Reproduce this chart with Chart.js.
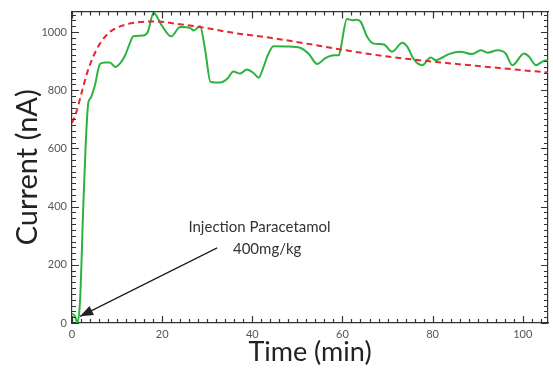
<!DOCTYPE html>
<html>
<head>
<meta charset="utf-8">
<script src="https://cdn.jsdelivr.net/npm/chart.js@4"></script>
<style>
  html, body { margin: 0; padding: 0; background: #fff; }
  #wrap { width: 553px; height: 370px; }
</style>
</head>
<body>
<div id="wrap"><canvas id="chart" width="553" height="370"></canvas></div>
<script>
// measured current (green)
const timeMeasured = [0, 0.6, 1.2, 1.8, 2.5, 3.0, 3.6, 4.1, 5.1, 6.2, 7.3, 8.4, 9.6, 10.8, 11.8, 12.8, 13.6, 15.8, 16.8, 18.1, 19.9, 22, 24, 26.2, 27, 28.4, 29.6, 30.7, 32.9, 34.5, 35.8, 37.3, 38.8, 40.2, 41.4, 42.5, 43.3, 44.7, 47.5, 50.7, 52.5, 54.4, 56.2, 58.1, 59.2, 59.6, 61, 62.2, 63, 64, 65.5, 67, 69.2, 71, 73.3, 74.4, 75.8, 77.7, 79.6, 80.7, 83.6, 86.2, 88.8, 90.7, 92.2, 94.4, 96.2, 97.7, 100.3, 101.4, 102.9, 105.1, 105.6];
const currentMeasured = [33, 25, 2, 80, 400, 600, 755, 772, 818, 890, 895, 895, 880, 895, 920, 960, 985, 988, 1000, 1065, 1023, 985, 1017, 1014, 1005, 1020, 932, 829, 826, 840, 864, 857, 871, 860, 843, 880, 915, 951, 950, 945, 925, 890, 910, 920, 920, 943, 1045, 1040, 1042, 1036, 983, 960, 957, 932, 963, 949, 907, 886, 912, 903, 924, 932, 924, 937, 929, 937, 926, 886, 926, 915, 886, 903, 900];

// fitted curve (red dashed)
const timeFit = [0, 1, 2.2, 3.3, 4.7, 6.2, 8.4, 11.4, 15.1, 18.8, 23.3, 28.4, 35.8, 44, 52, 59.6, 67, 75.8, 84, 92.2, 99, 105.6];
const currentFit = [687, 727, 795, 857, 915, 960, 1000, 1023, 1034, 1036, 1028, 1017, 997, 980, 960, 940, 922, 905, 892, 880, 870, 861];

const xRange = [0, 105.6];
const yRange = [0, 1070];

const annotationLines = ["Injection Paracetamol", "400mg/kg"];

const toPoints = (xs, ys) => xs.map((x, i) => ({ x, y: ys[i] }));

const font = "Lato";
const axisColor = "#333";

// inward tick length per axis id
const tickMarks = {
  x: 7, xMinor: 4, xTop: 7, xTopMinor: 4,
  y: 7, yMinor: 4, yRight: 7, yRightMinor: 4
};

function sideAxis(position, step, major, labels) {
  const vertical = position === "left" || position === "right";
  return {
    type: "linear",
    position,
    min: vertical ? yRange[0] : xRange[0],
    max: vertical ? yRange[1] : xRange[1],
    weight: major ? 1 : 0,
    grid: { drawOnChartArea: false, drawTicks: false },
    border: { display: major, color: axisColor, width: 1.2 },
    ticks: {
      display: labels,
      stepSize: step,
      includeBounds: false,
      autoSkip: false,
      padding: 5,
      color: "#555",
      font: { family: font, size: 11 },
      callback: v => String(v)
    },
    afterFit: scale => {
      if (position === "left") scale.width = labels ? 72 : 0;
      else if (position === "bottom") scale.height = labels ? 47 : 0;
      else if (position === "top") scale.height = 0;
      else scale.width = 0;
    }
  };
}

const scales = {
  x: sideAxis("bottom", 20, true, true),
  xMinor: sideAxis("bottom", 2, false, false),
  xTop: sideAxis("top", 20, true, false),
  xTopMinor: sideAxis("top", 2, false, false),
  y: sideAxis("left", 200, true, true),
  yMinor: sideAxis("left", 20, false, false),
  yRight: sideAxis("right", 200, true, false),
  yRightMinor: sideAxis("right", 20, false, false)
};
scales.x.title = {
  display: true,
  text: "Time (min)",
  color: "#222",
  font: { family: font, size: 27 },
  padding: { top: 0, bottom: 2 }
};
scales.y.title = {
  display: true,
  text: "Current (nA)",
  color: "#222",
  font: { family: font, size: 29 },
  padding: { top: 10, bottom: 0 }
};

// tick marks pointing into the plot, all four sides
const inwardTicks = {
  id: "inwardTicks",
  afterDraw(chart) {
    const { ctx, chartArea: a } = chart;
    ctx.save();
    ctx.strokeStyle = axisColor;
    ctx.lineWidth = 1.2;
    ctx.beginPath();
    Object.keys(tickMarks).forEach(id => {
      const s = chart.scales[id];
      const len = tickMarks[id];
      s.ticks.forEach(t => {
        const p = Math.round(s.getPixelForValue(t.value)) + 0.5;
        if (s.position === "bottom") { ctx.moveTo(p, a.bottom); ctx.lineTo(p, a.bottom - len); }
        else if (s.position === "top") { ctx.moveTo(p, a.top); ctx.lineTo(p, a.top + len); }
        else if (s.position === "left") { ctx.moveTo(a.left, p); ctx.lineTo(a.left + len, p); }
        else { ctx.moveTo(a.right, p); ctx.lineTo(a.right - len, p); }
      });
    });
    ctx.stroke();
    ctx.restore();
  }
};

// arrow + text for the injection note
const injectionNote = {
  id: "injectionNote",
  afterDatasetsDraw(chart) {
    const { ctx, scales: { x, y } } = chart;
    const x1 = x.getPixelForValue(32.2), y1 = y.getPixelForValue(258);
    const x2 = x.getPixelForValue(1.8), y2 = y.getPixelForValue(23);
    ctx.save();
    ctx.strokeStyle = "#222";
    ctx.fillStyle = "#222";
    ctx.lineWidth = 1.3;
    ctx.beginPath();
    ctx.moveTo(x1, y1);
    ctx.lineTo(x2, y2);
    ctx.stroke();
    const ang = Math.atan2(y2 - y1, x2 - x1);
    const len = 13, wid = 5;
    ctx.beginPath();
    ctx.moveTo(x2, y2);
    ctx.lineTo(x2 - len * Math.cos(ang) + wid * Math.sin(ang), y2 - len * Math.sin(ang) - wid * Math.cos(ang));
    ctx.lineTo(x2 - len * Math.cos(ang) - wid * Math.sin(ang), y2 - len * Math.sin(ang) + wid * Math.cos(ang));
    ctx.closePath();
    ctx.fill();
    ctx.font = "15px " + font;
    ctx.fillStyle = "#333";
    ctx.textAlign = "center";
    ctx.textBaseline = "middle";
    ctx.fillText(annotationLines[0], x.getPixelForValue(41.6), y.getPixelForValue(330));
    ctx.fillText(annotationLines[1], x.getPixelForValue(43.3), y.getPixelForValue(255));
    ctx.restore();
  }
};

new Chart(document.getElementById("chart"), {
  type: "line",
  data: {
    datasets: [
      {
        label: "Fit",
        data: toPoints(timeFit, currentFit),
        borderColor: "#e8262e",
        borderWidth: 2,
        borderDash: [6, 4],
        pointRadius: 0,
        fill: false,
        cubicInterpolationMode: "monotone"
      },
      {
        label: "Current",
        data: toPoints(timeMeasured, currentMeasured),
        borderColor: "#2cb33f",
        borderWidth: 2,
        pointRadius: 0,
        fill: false,
        cubicInterpolationMode: "monotone"
      }
    ]
  },
  options: {
    responsive: false,
    animation: false,
    layout: { padding: { top: 0, right: 5, left: 0, bottom: 0 } },
    plugins: {
      legend: { display: false },
      tooltip: { enabled: false }
    },
    scales
  },
  plugins: [inwardTicks, injectionNote]
});
</script>
</body>
</html>
